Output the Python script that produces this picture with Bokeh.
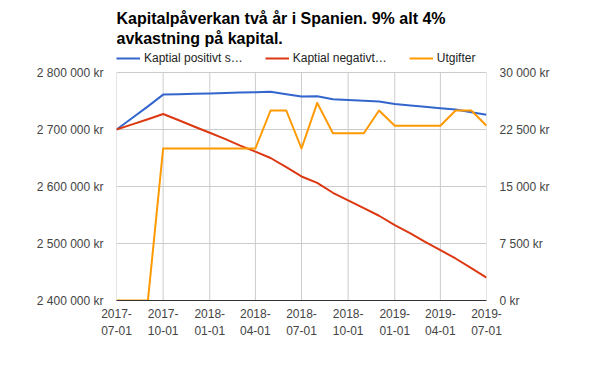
import pandas as pd
from bokeh.plotting import figure
from bokeh.models import (Range1d, LinearAxis, FixedTicker, Label, Legend, LegendItem)
from bokeh.embed import file_html
from bokeh.resources import INLINE

# ---- data ----
dates = ["2017-07-01", "2017-08-01", "2017-09-01", "2017-10-01", "2017-11-01", "2017-12-01",
         "2018-01-01", "2018-02-01", "2018-03-01", "2018-04-01", "2018-05-01", "2018-06-01",
         "2018-07-01", "2018-08-01", "2018-09-01", "2018-10-01", "2018-11-01", "2018-12-01",
         "2019-01-01", "2019-02-01", "2019-03-01", "2019-04-01", "2019-05-01", "2019-06-01",
         "2019-07-01"]
kapital_positivt = [2700000, 2720250, 2740650, 2761200, 2761900, 2762600,
                    2763350, 2764100, 2764800, 2765550, 2766300, 2762000,
                    2757800, 2758400, 2753100, 2751800, 2750400, 2749000,
                    2744700, 2742200, 2739800, 2737400, 2734900, 2730400,
                    2725900]
kapital_negativt = [2700000, 2709000, 2718000, 2727100, 2716200, 2705200,
                    2694300, 2683200, 2672200, 2661100, 2650000, 2633800,
                    2617600, 2606300, 2589000, 2575600, 2562200, 2548700,
                    2532200, 2517700, 2503100, 2488400, 2473700, 2456900,
                    2440100]
utgifter = [0, 0, 0, 20000, 20000, 20000,
            20000, 20000, 20000, 20000, 25000, 25000,
            20000, 26000, 22000, 22000, 22000, 25000,
            23000, 23000, 23000, 23000, 25000, 25000,
            23000]
series_names = ["Kaptial positivt s…", "Kaptial negativt…", "Utgifter"]
x_tick_dates = ["2017-07-01", "2017-10-01", "2018-01-01", "2018-04-01", "2018-07-01",
                "2018-10-01", "2019-01-01", "2019-04-01", "2019-07-01"]
left_ticks = [2400000, 2500000, 2600000, 2700000, 2800000]
left_tick_labels = ["2 400 000 kr", "2 500 000 kr", "2 600 000 kr", "2 700 000 kr", "2 800 000 kr"]
right_ticks = [0, 7500, 15000, 22500, 30000]
right_tick_labels = ["0 kr", "7 500 kr", "15 000 kr", "22 500 kr", "30 000 kr"]
title_lines = ["Kapitalpåverkan två år i Spanien. 9% alt 4%", "avkastning på kapital."]

# ---- layout / styles ----
FONT = "Liberation Sans"
C_BLUE, C_RED, C_ORANGE = "#3366cc", "#dc3912", "#ff9900"
TXT = "#444444"
GRID = "#cccccc"
FRAME_H = 300        # frame spans from canvas top to the x-axis
DATA_H = 228         # pixel height of the value area (2.4M..2.8M)
ext = FRAME_H / DATA_H

x = pd.to_datetime(dates)
xt = pd.to_datetime(x_tick_dates)
xt_ms = [float(t.value // 10**6) for t in xt]

ly0, ly1 = left_ticks[0], left_ticks[-1]
ry0, ry1 = right_ticks[0], right_ticks[-1]

p = figure(width=584, height=355, output_backend="svg", toolbar_location=None,
           x_axis_type="datetime",
           x_range=Range1d(xt_ms[0], xt_ms[-1]),
           y_range=Range1d(ly0, ly0 + (ly1 - ly0) * ext),
           frame_width=370, frame_height=FRAME_H,
           min_border_left=116, min_border_right=98,
           min_border_top=0, min_border_bottom=55)
p.extra_y_ranges = {"right": Range1d(ry0, ry0 + (ry1 - ry0) * ext)}
p.outline_line_color = None
p.background_fill_color = "white"
p.border_fill_color = "white"

# axes
xa = p.xaxis[0]
xa.ticker = FixedTicker(ticks=xt_ms)
xa.major_label_overrides = {ms: d[:5] + "\n" + d[5:] for ms, d in zip(xt_ms, x_tick_dates)}
xa.axis_line_color = "#333333"
xa.major_tick_line_color = None
xa.minor_tick_line_color = None
xa.major_tick_out = 0
xa.major_tick_in = 0
xa.major_label_standoff = 6
xa.major_label_text_font = FONT
xa.major_label_text_font_size = "12px"
xa.major_label_text_color = TXT
xa.major_label_text_line_height = 1.25

ya = p.yaxis[0]
ya.ticker = FixedTicker(ticks=left_ticks)
ya.major_label_overrides = {t: s for t, s in zip(left_ticks, left_tick_labels)}
ya.axis_line_color = None
ya.major_tick_line_color = None
ya.minor_tick_line_color = None
ya.major_tick_out = 0
ya.major_tick_in = 0
ya.major_label_standoff = 13
ya.major_label_text_font = FONT
ya.major_label_text_font_size = "12px"
ya.major_label_text_color = TXT

ra = LinearAxis(y_range_name="right", ticker=FixedTicker(ticks=right_ticks))
ra.major_label_overrides = {t: s for t, s in zip(right_ticks, right_tick_labels)}
ra.axis_line_color = None
ra.major_tick_line_color = None
ra.minor_tick_line_color = None
ra.major_tick_out = 0
ra.major_tick_in = 0
ra.major_label_standoff = 13
ra.major_label_text_font = FONT
ra.major_label_text_font_size = "12px"
ra.major_label_text_color = TXT
p.add_layout(ra, "right")

# grid: horizontal lines at left ticks, vertical lines only inside the value area
p.xgrid.grid_line_color = None
p.ygrid.ticker = FixedTicker(ticks=left_ticks)
p.ygrid.grid_line_color = GRID
p.segment(x0=xt, y0=[ly0] * len(xt), x1=xt, y1=[ly1] * len(xt), line_color=GRID, line_width=1)

# series
r1 = p.line(x, kapital_positivt, line_color=C_BLUE, line_width=2, line_join="round")
r2 = p.line(x, kapital_negativt, line_color=C_RED, line_width=2, line_join="round")
r3 = p.line(x, utgifter, line_color=C_ORANGE, line_width=2, line_join="round", y_range_name="right")

# legend (inside the frame, above the value area)
legend = Legend(items=[LegendItem(label=n, renderers=[r]) for n, r in zip(series_names, [r1, r2, r3])],
                orientation="horizontal", location=(0, 234),
                glyph_width=24, glyph_height=16, label_standoff=4, spacing=22,
                margin=0, padding=0, border_line_color=None, background_fill_alpha=0,
                label_text_font=FONT, label_text_font_size="12px", label_text_color="#222222",
                label_height=16)
p.add_layout(legend, "center")

# title (screen units, relative to frame bottom-left)
for i, line in enumerate(title_lines):
    p.add_layout(Label(x=0, y=FRAME_H - 17.7 - 20 * i, x_units="screen", y_units="screen", text=line,
                       text_font=FONT, text_font_style="bold", text_font_size="16px",
                       text_color="#000000", text_baseline="alphabetic"))

open("out.html", "w").write(file_html(p, INLINE))
